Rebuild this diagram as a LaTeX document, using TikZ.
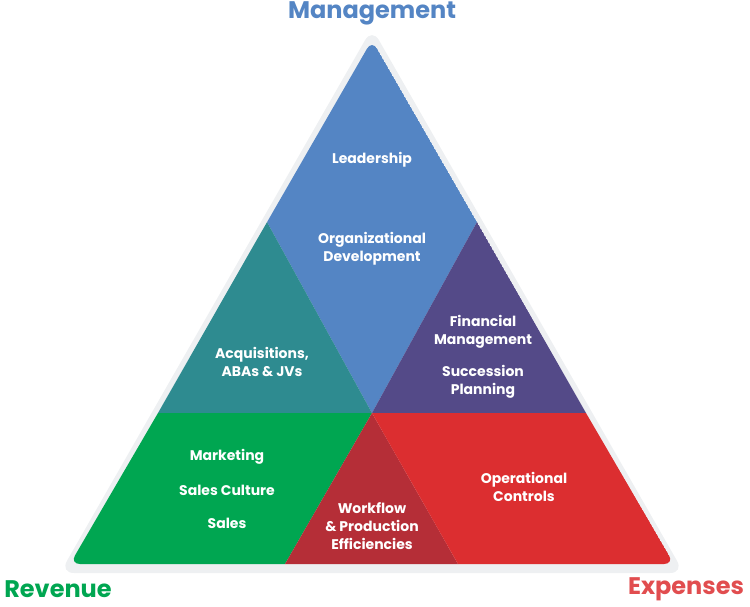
\documentclass[tikz,border=0pt]{standalone}
\usepackage{fontspec}
\setmainfont{Poppins}
\usetikzlibrary{calc}
\definecolor{mgmtblue}{HTML}{5485C4}
\definecolor{acqteal}{HTML}{2E8B90}
\definecolor{finpurple}{HTML}{544A88}
\definecolor{revgreen}{HTML}{00A651}
\definecolor{flowred}{HTML}{B52E37}
\definecolor{expred}{HTML}{DC2E30}
\definecolor{rimgray}{HTML}{EEF0F2}
\tikzset{
  lbl/.style={text=white, font=\fontsize{14}{18}\selectfont\bfseries, align=center},
  corner/.style={font=\fontsize{24}{28}\selectfont\bfseries}
}
\begin{document}
\begin{tikzpicture}[x=1pt, y=-1pt]
\useasboundingbox (0,0) rectangle (750,606);
	% outer rim
	\fill[rimgray, rounded corners=14] (372,28) -- (60,573) -- (684,573) -- cycle;
	% corners of the pyramid
	\coordinate (top) at (372,40);
	\coordinate (bl) at (70,564);
	\coordinate (br) at (674,564);
	\coordinate (c) at (372,413);
	\coordinate (lm) at (267,222);
	\coordinate (rm) at (477,222);
	\coordinate (ll) at (158,413);
	\coordinate (rl) at (586,413);
	\coordinate (b1) at (285,564);
	\coordinate (b2) at (458,564);
	\begin{scope}
	\clip[rounded corners=10] (top) -- (bl) -- (br) -- cycle;
	% colour sections
	\fill[mgmtblue] (top) -- (lm) -- (c) -- (rm) -- cycle;
	\fill[acqteal] (lm) -- (ll) -- (c) -- cycle;
	\fill[finpurple] (rm) -- (rl) -- (c) -- cycle;
	\fill[revgreen] (ll) -- (bl) -- (b1) -- (c) -- cycle;
	\fill[flowred] (c) -- (b1) -- (b2) -- cycle;
	\fill[expred] (c) -- (b2) -- (br) -- (rl) -- cycle;
	\end{scope}
	% labels
	\node[lbl] (lead) at (372,160) {Leadership};
	\node[lbl] (orgdev) at (372,249) {Organizational\\Development};
	\node[lbl] (acq) at (262,362) {Acquisitions,\\ABAs \& JVs};
	\node[lbl] (fin) at (483,332) {Financial\\Management};
	\node[lbl] (succ) at (483,382) {Succession\\Planning};
	\node[lbl] (mkt) at (227,457) {Marketing};
	\node[lbl] (culture) at (227,490) {Sales Culture};
	\node[lbl] (sales) at (227,523) {Sales};
	\node[lbl] (flow) at (372,526) {Workflow\\\& Production\\Efficiencies};
	\node[lbl] (ops) at (524,487) {Operational\\Controls};
	\node[corner, text=mgmtblue] (mgmt) at (372,13) {Management};
	\node[corner, text=revgreen] (rev) at (58,589) {Revenue};
	\node[corner, text=expred!85!white] (exp) at (686,589) {Expenses};
\end{tikzpicture}
\end{document}
